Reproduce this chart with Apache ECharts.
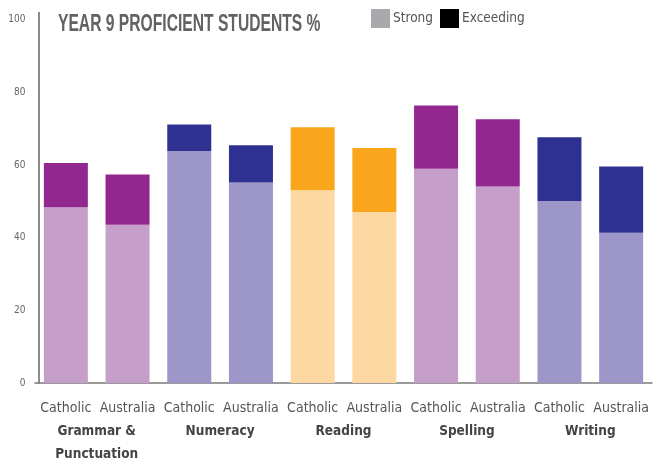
<!DOCTYPE html>
<html><head><meta charset="utf-8">
<script src="https://cdn.jsdelivr.net/npm/echarts@6/dist/echarts.min.js"></script>
<style>html,body{margin:0;padding:0;background:#fff}#c{width:659px;height:466px}</style>
</head><body><div id="c"></div>
<script>
const titleText = 'YEAR 9 PROFICIENT STUDENTS %';
const subCategories = ['Catholic','Australia','Catholic','Australia','Catholic','Australia','Catholic','Australia','Catholic','Australia'];
const groups = ['Grammar &\nPunctuation','Numeracy','Reading','Spelling','Writing'];
const strong = [48.4, 43.6, 63.9, 55.2, 53.1, 47.1, 59.0, 54.1, 50.1, 41.4];
const totals = [60.6, 57.4, 71.2, 65.5, 70.4, 64.7, 76.4, 72.6, 67.7, 59.6];
const yTicks = [0,20,40,60,80,100];
const strongColors = ['#C59FC9','#C59FC9','#9D97C9','#9D97C9','#FED8A2','#FED8A2','#C59FC9','#C59FC9','#9D97C9','#9D97C9'];
const exceedColors = ['#92278F','#92278F','#2E3192','#2E3192','#F9A61C','#F9A61C','#92278F','#92278F','#2E3192','#2E3192'];
const exceeding = totals.map((t,i)=>+(t-strong[i]).toFixed(1));
const FONT = '"DejaVu Sans Condensed", sans-serif';
const chart = echarts.init(document.getElementById('c'), null, {renderer:'canvas'});
chart.setOption({
  animation:false,
  graphic:[{type:'text', left:58, top:12, scaleX:0.68, scaleY:1.05, originX:0,
    style:{text:titleText, font:'bold 23px "Liberation Sans", Arial, sans-serif', fill:'#626262'}}],
  legend:{data:['Strong','Exceeding'], left:371, top:9, padding:0, itemWidth:19, itemHeight:19, itemGap:7,
    icon:'rect', textStyle:{fontFamily:FONT, fontSize:13.5, color:'#555', padding:[4,0,0,-2]}},
  grid:{left:35, right:7, top:12.6, bottom:77.5},
  xAxis:[{type:'category', data:subCategories, axisLine:{lineStyle:{color:'#7a7a7a', width:1.5}},
    axisTick:{show:false}, axisLabel:{fontFamily:FONT, fontSize:14, color:'#555', margin:18, interval:0}},
    {type:'category', data:groups, position:'bottom', axisLine:{show:false}, axisTick:{show:false},
    axisLabel:{fontFamily:FONT, fontSize:13.5, fontWeight:'bold', color:'#444', margin:37, lineHeight:23, interval:0}}],
  yAxis:{type:'value', min:0, max:102, interval:20, offset:-3.5, splitLine:{show:false},
    axisLine:{show:true, lineStyle:{color:'#666', width:1.5}}, axisTick:{show:false},
    axisLabel:{fontFamily:FONT, fontSize:10, color:'#666', margin:13, verticalAlign:'middle', padding:[0,0,7,0], showMaxLabel:false,
      formatter:v=>yTicks.includes(v)?String(v):''}},
  series:[
    {name:'Strong', type:'bar', stack:'a', barWidth:44, color:'#A7A9AC',
      data:strong.map((v,i)=>({value:v, itemStyle:{color:strongColors[i]}}))},
    {name:'Exceeding', type:'bar', stack:'a', barWidth:44, color:'#000000',
      data:exceeding.map((v,i)=>({value:v, itemStyle:{color:exceedColors[i]}}))}
  ]
});
</script></body></html>
